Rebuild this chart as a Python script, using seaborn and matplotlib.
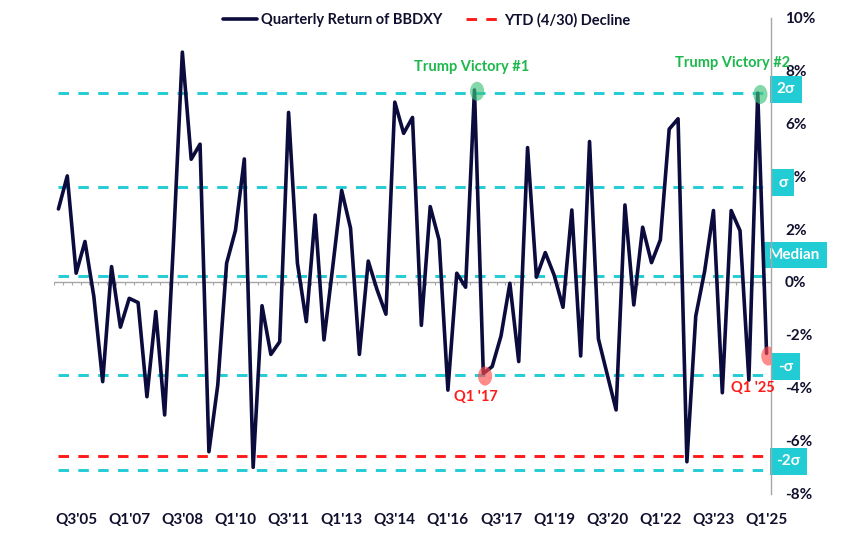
import numpy as np
import pandas as pd
import seaborn as sns
import matplotlib.pyplot as plt
from matplotlib.lines import Line2D
from matplotlib.patches import Ellipse

# Quarterly return of BBDXY, Q1'05 .. Q1'25 (%)
quarters = [f"Q{q}'{y % 100:02d}" for y in range(2005, 2026) for q in range(1, 5)][:81]
returns = [2.76, 4.01, 0.33, 1.53, -0.55, -3.77, 0.58, -1.71, -0.62, -0.78,
           -4.34, -1.12, -5.03, 1.5, 8.69, 4.64, 5.21, -6.42, -3.9, 0.71,
           1.95, 4.65, -7.01, -0.9, -2.74, -2.26, 6.41, 0.71, -1.5, 2.53,
           -2.19, 0.6, 3.46, 2.03, -2.74, 0.79, -0.3, -1.22, 6.8, 5.62,
           6.22, -1.64, 2.85, 1.59, -4.09, 0.33, -0.2, 7.26, -3.46, -3.2,
           -2.04, -0.05, -3.01, 5.08, 0.18, 1.11, 0.26, -0.96, 2.72, -2.8,
           5.31, -2.15, -3.5, -4.84, 2.91, -0.87, 2.07, 0.73, 1.59, 5.78,
           6.17, -6.8, -1.29, 0.4, 2.7, -4.19, 2.7, 1.94, -3.71, 7.14, -2.7]

band_names = ["2σ", "σ", "Median", "-σ", "-2σ"]
band_levels = [7.15, 3.6, 0.24, -3.52, -7.1]
ytd_decline = -6.57

tick_labels = ["Q3'05", "Q1'07", "Q3'08", "Q1'10", "Q3'11", "Q1'13", "Q3'14",
               "Q1'16", "Q3'17", "Q1'19", "Q3'20", "Q1'22", "Q3'23", "Q1'25"]

victories = ["Q4'16", "Q4'24"]
after = ["Q1'17", "Q1'25"]

df = pd.DataFrame({"quarter": quarters, "ret": returns})
df["pos"] = np.arange(len(df))

navy = "#0B0B3D"
cyan = "#22CCD5"
red = "#FF1A1A"
green = "#1DB84C"
txt = "#10102E"

sns.set_theme(style="white")
plt.rcParams["font.family"] = ["Lato", "DejaVu Sans"]
plt.rcParams["font.weight"] = "bold"

fig = plt.figure(figsize=(8.5, 5.34), dpi=100)
ax = fig.add_axes([54 / 850, 1 - 493.5 / 534, 717 / 850, 476 / 534])

# reference lines
for lvl in band_levels:
    ax.hlines(lvl, 0, 80.5, colors=cyan, lw=2.1, linestyles=(0, (3.6, 3.2)), zorder=1)
ax.hlines(ytd_decline, 0, 80.5, colors=red, lw=2.1, linestyles=(0, (3.6, 3.2)), zorder=1)

# zero axis with category ticks
ax.axhline(0, color="#A6A6A6", lw=1, zorder=1)
ax.vlines(np.arange(len(df) + 1) - 0.5, -0.13, 0, colors="#A6A6A6", lw=0.8, zorder=1)

sns.lineplot(data=df, x="pos", y="ret", ax=ax, color=navy, lw=2.6, zorder=3)

# highlight circles
pos_of = dict(zip(df["quarter"], df["pos"]))
for q in victories:
    p = pos_of[q]
    ax.add_patch(Ellipse((p + 0.3, returns[p] - 0.05), 1.6, 0.72, color="#40C47C", alpha=0.65, lw=0, zorder=4))
for q in after:
    p = pos_of[q]
    ax.add_patch(Ellipse((p + 0.2, returns[p] - 0.1), 1.6, 0.72, color="#FF4D4D", alpha=0.65, lw=0, zorder=4))

ax.text(46.7, 8.12, "Trump Victory #1", color=green, ha="center", va="center", fontsize=10.5, fontweight="bold")
ax.text(76.2, 8.29, "Trump Victory #2", color=green, ha="center", va="center", fontsize=10.5, fontweight="bold")
ax.text(47.2, -4.36, "Q1 '17", color=red, ha="center", va="center", fontsize=10.5, fontweight="bold")
ax.text(78.4, -4.0, "Q1 '25", color=red, ha="center", va="center", fontsize=10.5, fontweight="bold")

# badges at the right (drawn under the tick labels)
badge_x = [1.021, 1.017, 1.033, 1.021, 1.024]
badge_off = [0.13, 0.16, 0.78, 0.32, 0.32]
tr = ax.get_yaxis_transform()
for name, lvl, bx, off in zip(band_names, band_levels, badge_x, badge_off):
    ax.text(bx, lvl + off, name, transform=tr, ha="center", va="center", color="white",
            fontsize=11, fontweight="bold", zorder=2, clip_on=False,
            bbox=dict(boxstyle="square,pad=0.42", fc=cyan, ec="none"))

ax.set_xlim(-0.5, 80.5)
ax.set_ylim(-8, 10)
ax.set_yticks(range(-8, 11, 2))
ax.set_yticklabels([f"{v}%" for v in range(-8, 11, 2)])
ax.yaxis.tick_right()
ax.tick_params(axis="y", length=0, pad=10, labelsize=11, labelcolor=txt)
ax.set_xticks([pos_of[t] for t in tick_labels])
ax.set_xticklabels(tick_labels)
ax.tick_params(axis="x", length=0, pad=14, labelsize=11, labelcolor=txt)
for lab in ax.get_xticklabels() + ax.get_yticklabels():
    lab.set_fontweight("bold")
ax.set_xlabel("")
ax.set_ylabel("")
for s in ["left", "top", "bottom"]:
    ax.spines[s].set_visible(False)
ax.spines["right"].set_color("#A6A6A6")
ax.spines["right"].set_linewidth(1)

handles = [Line2D([], [], color=navy, lw=2.6),
           Line2D([], [], color=red, lw=2.1, linestyle=(0, (3.6, 3.2)))]
fig.legend(handles, ["Quarterly Return of BBDXY", "YTD (4/30) Decline"], loc="center",
           bbox_to_anchor=(0.502, 0.9625), ncol=2, frameon=False, handlelength=2.3,
           handletextpad=0.3, columnspacing=1.6, prop={"size": 10.5, "weight": "bold"},
           labelcolor=txt)

fig.savefig("out.png", dpi=100)
